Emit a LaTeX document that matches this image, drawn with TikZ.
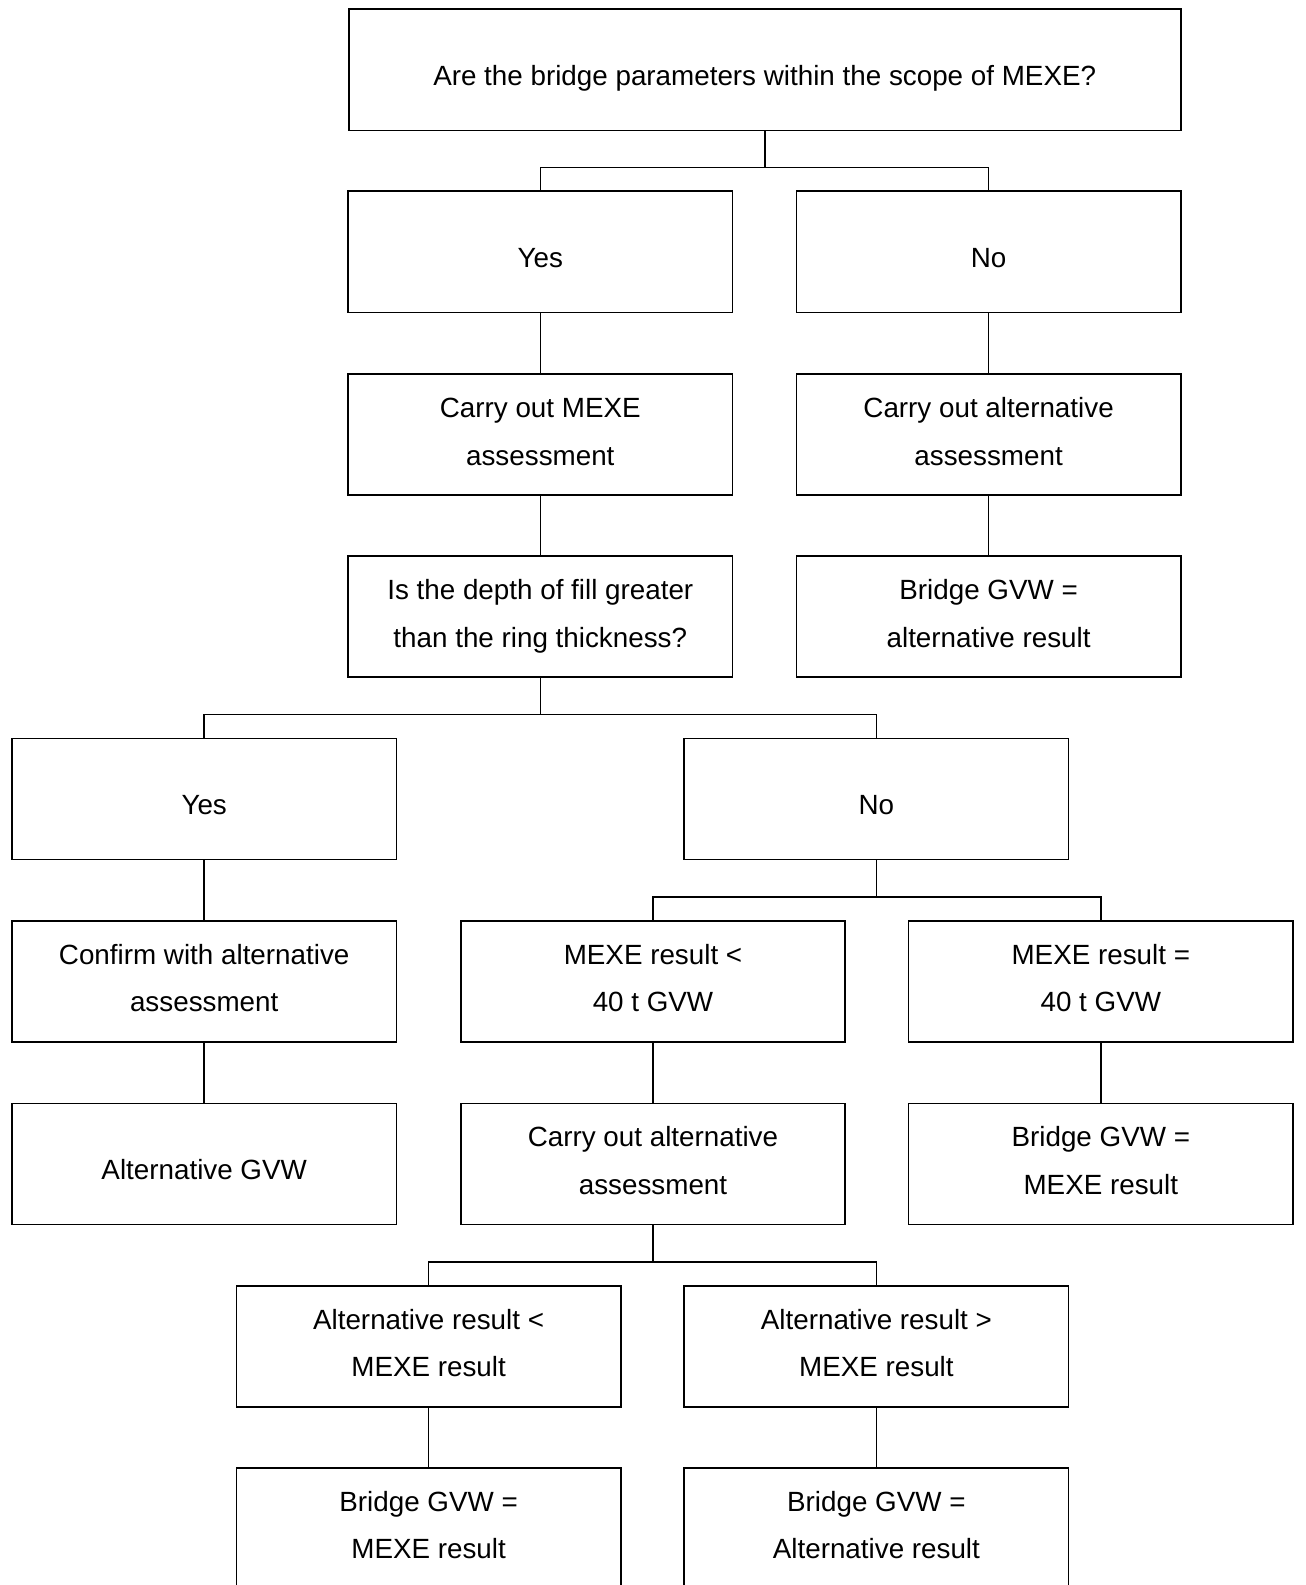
\documentclass[tikz,border=0pt]{standalone}
\usepackage{fontspec}
\setmainfont{Liberation Sans}
\newcommand\twol[2]{\begin{tabular}[t]{@{}c@{}}#1\\#2\end{tabular}}
\begin{document}
\begin{tikzpicture}[x=1pt,y=-1pt,
  box/.style={draw=black,line width=1.6pt,rectangle,inner sep=0pt,
    minimum width=384.5pt,minimum height=121.3pt,
    font=\fontsize{27.8}{47.7}\selectfont},
  one/.style={box,text height=30.6pt,text depth=0pt},
  two/.style={box,text height=0pt,text depth=34.6pt},
  conn/.style={draw=black,line width=1.6pt}]
\clip (0,0) rectangle (1306,1585);
\fill[white] (0,0) rectangle (1306,1585);
% row 1
\node[one,minimum width=832pt] (top) at (764.7,69.8) {Are the bridge parameters within the scope of MEXE?};
% row 2
\node[one] (yesA) at (540.3,251.7) {Yes};
\node[one] (noA) at (988.6,251.7) {No};
% row 3
\node[two] (mexe) at (540.3,434.6) {\twol{Carry out MEXE}{assessment}};
\node[two] (altA) at (988.6,434.6) {\twol{Carry out alternative}{assessment}};
% row 4
\node[two] (depth) at (540.3,616.6) {\twol{Is the depth of fill greater}{than the ring thickness?}};
\node[two] (gvwA) at (988.6,616.6) {\twol{Bridge GVW =}{alternative result}};
% row 5
\node[one] (yesB) at (204.2,799.0) {Yes};
\node[one] (noB) at (876.4,799.0) {No};
% row 6
\node[two] (confirm) at (204.2,981.5) {\twol{Confirm with alternative}{assessment}};
\node[two] (less) at (653.0,981.5) {\twol{MEXE result <}{40 t GVW}};
\node[two] (equal) at (1100.8,981.5) {\twol{MEXE result =}{40 t GVW}};
% row 7
\node[one] (altgvw) at (204.2,1164.0) {Alternative GVW};
\node[two] (altB) at (653.0,1164.0) {\twol{Carry out alternative}{assessment}};
\node[two] (gvwB) at (1100.8,1164.0) {\twol{Bridge GVW =}{MEXE result}};
% row 8
\node[two] (altless) at (428.6,1346.5) {\twol{Alternative result <}{MEXE result}};
\node[two] (altmore) at (876.4,1346.5) {\twol{Alternative result >}{MEXE result}};
% row 9
\node[two] (gvwC) at (428.6,1528.4) {\twol{Bridge GVW =}{MEXE result}};
\node[two] (gvwD) at (876.4,1528.4) {\twol{Bridge GVW =}{Alternative result}};
% connectors
\draw[conn] (top.south) -- ++(0,36.4) -| (yesA.north);
\draw[conn] (top.south) -- ++(0,36.4) -| (noA.north);
\draw[conn] (yesA) -- (mexe);
\draw[conn] (noA) -- (altA);
\draw[conn] (mexe) -- (depth);
\draw[conn] (altA) -- (gvwA);
\draw[conn] (depth.south) -- ++(0,36.4) -| (yesB.north);
\draw[conn] (depth.south) -- ++(0,36.4) -| (noB.north);
\draw[conn] (yesB) -- (confirm);
\draw[conn] (confirm) -- (altgvw);
\draw[conn] (noB.south) -- ++(0,36.4) -| (less.north);
\draw[conn] (noB.south) -- ++(0,36.4) -| (equal.north);
\draw[conn] (less) -- (altB);
\draw[conn] (equal) -- (gvwB);
\draw[conn] (altB.south) -- ++(0,36.4) -| (altless.north);
\draw[conn] (altB.south) -- ++(0,36.4) -| (altmore.north);
\draw[conn] (altless) -- (gvwC);
\draw[conn] (altmore) -- (gvwD);
\end{tikzpicture}
\end{document}
